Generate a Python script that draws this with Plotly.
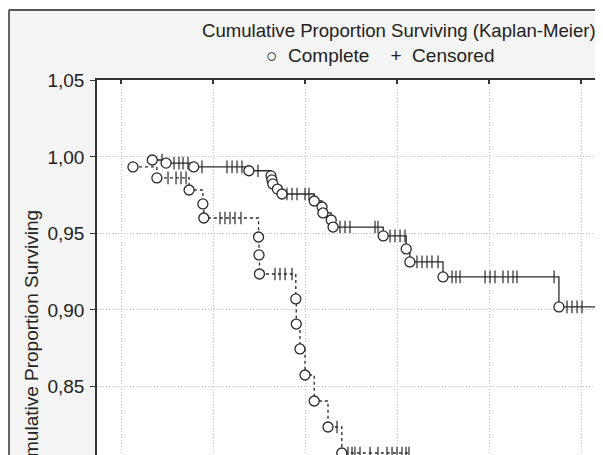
import plotly.graph_objects as go

# ---- Data ----
# Group 1 (solid line): event times and survival after each event
g1_event_t = [13.4, 14.9, 17.9, 23.9, 26.3, 26.4, 26.5, 27.0, 27.5, 31.0, 31.85, 31.95,
              32.85, 33.05, 38.5, 41.0, 41.4, 45.0, 57.6]
g1_event_s = [0.998, 0.996, 0.9935, 0.991, 0.9876, 0.985, 0.9824, 0.979, 0.9758, 0.9712,
              0.9673, 0.9634, 0.9588, 0.9542, 0.9484, 0.9399, 0.9314, 0.9216, 0.902]
g1_censor_t = [14.46, 15.76, 16.30, 16.74, 17.28, 18.80, 21.52, 22.07, 22.61, 23.15, 24.89,
               28.04, 28.59, 29.13, 30.0, 30.43, 33.80, 34.35, 34.89, 37.61, 37.93, 39.24,
               39.78, 40.33, 40.87, 42.17, 42.72, 43.26, 43.80, 44.46, 45.98, 46.41, 46.85,
               49.57, 50.11, 50.65, 51.52, 52.07, 52.61, 53.04, 57.07, 58.48, 59.02, 59.57,
               60.11, 63.5]

# Group 2 (dashed line)
g2_event_t = [11.3, 13.9, 17.4, 18.9, 19.0, 24.95, 25.0, 25.05, 29.0, 29.05, 29.45, 30.0,
              31.0, 32.5, 34.0]
g2_event_s = [0.9935, 0.9863, 0.9784, 0.9693, 0.9601, 0.9477, 0.936, 0.9235, 0.9072, 0.8908,
              0.8745, 0.8575, 0.8405, 0.8235, 0.8065]
g2_censor_t = [15.11, 15.98, 16.52, 17.07, 20.76, 21.30, 21.85, 22.39, 23.04, 26.74, 27.28,
               27.83, 28.59, 33.48, 34.67, 35.11, 35.43, 35.98, 37.07, 37.93, 38.91, 39.46,
               40.0, 40.54, 40.98, 41.30]

y_ticks = [0.85, 0.90, 0.95, 1.00, 1.05]
y_tick_labels = ["0,85", "0,90", "0,95", "1,00", "1,05"]
x_grid = [10, 20, 30, 40, 50, 60]

title_text = "Cumulative Proportion Surviving (Kaplan-Meier)"
legend_text = "○  Complete    +  Censored"
y_title = "Cumulative Proportion Surviving"

INK = "#2a2a2a"
FONT = "Liberation Sans, Arial, sans-serif"
FS = 19


def surv_at(t, ev_t, ev_s):
    s = ev_s[0]
    for et, es in zip(ev_t, ev_s):
        if et <= t:
            s = es
    return s


def step_points(ev_t, ev_s, c_t):
    pts = [(t, s, 0) for t, s in zip(ev_t, ev_s)]
    pts += [(t, surv_at(t, ev_t, ev_s), 1) for t in c_t]
    pts.sort(key=lambda p: (p[0], p[2]))
    return [p[0] for p in pts], [p[1] for p in pts]


fig = go.Figure()

for ev_t, ev_s, c_t, dash in [(g1_event_t, g1_event_s, g1_censor_t, "solid"),
                              (g2_event_t, g2_event_s, g2_censor_t, "3px,3px")]:
    lx, ly = step_points(ev_t, ev_s, c_t)
    fig.add_trace(go.Scatter(x=lx, y=ly, mode="lines", line_shape="hv",
                             line=dict(color=INK, width=1.3, dash=dash),
                             showlegend=False, hoverinfo="skip"))
    cy = [surv_at(t, ev_t, ev_s) for t in c_t]
    fig.add_trace(go.Scatter(x=c_t, y=cy, mode="markers",
                             marker=dict(symbol="line-ns", size=9,
                                         line=dict(color=INK, width=1.2)),
                             showlegend=False))
    fig.add_trace(go.Scatter(x=ev_t, y=ev_s, mode="markers",
                             marker=dict(symbol="circle", size=10, color="white",
                                         line=dict(color=INK, width=1.3)),
                             showlegend=False))

fig.update_layout(
    width=595, height=447,
    margin=dict(l=89, r=0, t=72, b=0),
    paper_bgcolor="#f4f4f4",
    plot_bgcolor="white",
    font=dict(family=FONT, color="#222", size=FS),
    xaxis=dict(range=[7.391, 62.39], side="top", showline=True, linecolor="#333",
               linewidth=2, ticks="inside", ticklen=4, tickcolor="#333", tickwidth=1.5,
               tickvals=x_grid, showticklabels=False, showgrid=True,
               gridcolor="#c8c8c8", griddash="1px,2px", gridwidth=1, zeroline=False),
    yaxis=dict(range=[0.8052, 1.0503], showline=True, linecolor="#333", linewidth=1.5,
               ticks="outside", ticklen=5, tickcolor="#333",
               tickvals=y_ticks, ticktext=y_tick_labels, ticklabelstandoff=2,
               tickfont=dict(size=FS, color="#222"),
               showgrid=True, gridcolor="#c8c8c8", griddash="1px,2px", gridwidth=1,
               zeroline=False),
    annotations=[
        dict(text=title_text, xref="paper", yref="paper", x=0.596, y=1.133,
             xanchor="center", yanchor="middle", showarrow=False,
             font=dict(size=18.6, family=FONT, color="#222")),
        dict(text=legend_text, xref="paper", yref="paper", x=0.561, y=1.064,
             xanchor="center", yanchor="middle", showarrow=False,
             font=dict(size=FS, family=FONT, color="#222")),
        dict(text=y_title, xref="paper", yref="paper", x=-0.1304, y=0.29,
             xanchor="center", yanchor="middle", showarrow=False, textangle=-90,
             font=dict(size=FS, family=FONT, color="#222")),
    ],
    shapes=[
        dict(type="rect", xref="paper", yref="paper", x0=-0.3, x1=-0.1739, y0=-0.2, y1=1.3,
             fillcolor="white", line=dict(width=0), layer="above"),
        dict(type="rect", xref="paper", yref="paper", x0=-0.3, x1=1.2, y0=1.1867, y1=1.3,
             fillcolor="white", line=dict(width=0), layer="above"),
        dict(type="line", xref="paper", yref="paper", x0=-0.1739, x1=-0.1739, y0=-0.2, y1=1.1867,
             line=dict(color="#555", width=1.8), layer="above"),
        dict(type="line", xref="paper", yref="paper", x0=-0.1739, x1=1.2, y0=1.1867, y1=1.1867,
             line=dict(color="#555", width=1.8), layer="above"),
    ],
)

fig.write_html("out.html")
